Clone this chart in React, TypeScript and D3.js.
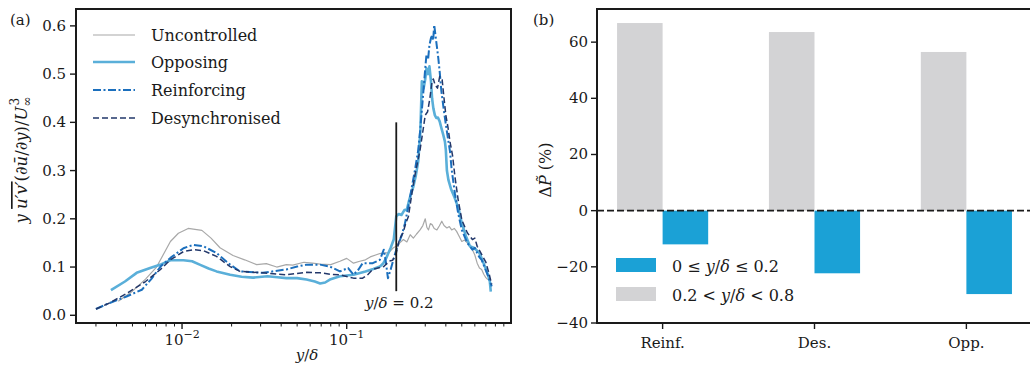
import * as d3 from "d3";

// panel (a): premultiplied energy production profiles, [y/delta, value]
const uncontrolled: [number, number][] = [
  [0.0041, 0.029], [0.005, 0.05], [0.006, 0.075], [0.007, 0.1], [0.0085, 0.153], [0.0095, 0.17],
  [0.0109, 0.18], [0.0132, 0.176], [0.015, 0.16], [0.017, 0.14], [0.0204, 0.124], [0.024, 0.115],
  [0.0284, 0.105], [0.0325, 0.107], [0.0376, 0.1], [0.043, 0.105], [0.047, 0.104], [0.055, 0.11],
  [0.062, 0.108], [0.069, 0.106], [0.08, 0.105], [0.091, 0.112], [0.1, 0.118], [0.11, 0.108],
  [0.12, 0.112], [0.13, 0.115], [0.139, 0.121], [0.159, 0.128], [0.168, 0.129], [0.18, 0.13],
  [0.192, 0.14], [0.2, 0.143], [0.21, 0.15], [0.221, 0.157], [0.232, 0.152], [0.243, 0.167],
  [0.254, 0.16], [0.265, 0.168], [0.279, 0.177], [0.29, 0.186], [0.3, 0.2], [0.307, 0.182],
  [0.314, 0.177], [0.322, 0.19], [0.33, 0.188], [0.34, 0.18], [0.353, 0.177], [0.365, 0.185],
  [0.378, 0.195], [0.39, 0.186], [0.406, 0.181], [0.42, 0.184], [0.434, 0.177], [0.45, 0.18],
  [0.465, 0.174], [0.48, 0.165], [0.5, 0.153], [0.52, 0.156], [0.54, 0.15], [0.56, 0.145],
  [0.58, 0.136], [0.6, 0.125], [0.62, 0.108], [0.64, 0.098], [0.66, 0.095], [0.68, 0.085],
  [0.7, 0.078], [0.72, 0.074],
];

const opposing: [number, number][] = [
  [0.0037, 0.052], [0.0045, 0.07], [0.0053, 0.088], [0.0064, 0.098], [0.0075, 0.106], [0.0085, 0.114],
  [0.0102, 0.114], [0.0115, 0.112], [0.0128, 0.105], [0.0145, 0.097], [0.0162, 0.091], [0.0196, 0.084],
  [0.023, 0.08], [0.027, 0.078], [0.033, 0.081], [0.038, 0.079], [0.043, 0.077], [0.05, 0.077],
  [0.057, 0.074], [0.064, 0.07], [0.069, 0.066], [0.074, 0.068], [0.079, 0.074], [0.091, 0.081],
  [0.11, 0.084], [0.13, 0.091], [0.145, 0.096], [0.159, 0.101], [0.167, 0.108], [0.174, 0.119],
  [0.185, 0.14], [0.193, 0.157], [0.2, 0.205], [0.207, 0.21], [0.215, 0.208], [0.224, 0.218],
  [0.232, 0.219], [0.238, 0.235], [0.243, 0.246], [0.254, 0.267], [0.263, 0.29], [0.272, 0.32],
  [0.28, 0.38], [0.286, 0.485], [0.293, 0.47], [0.3, 0.49], [0.305, 0.512], [0.312, 0.5],
  [0.318, 0.516], [0.325, 0.485], [0.33, 0.45], [0.336, 0.429], [0.343, 0.415], [0.35, 0.409],
  [0.358, 0.41], [0.367, 0.402], [0.376, 0.388], [0.386, 0.374], [0.395, 0.36], [0.4, 0.343],
  [0.406, 0.3], [0.415, 0.28], [0.43, 0.262], [0.45, 0.246], [0.48, 0.219], [0.5, 0.191],
  [0.53, 0.164], [0.56, 0.143], [0.59, 0.14], [0.61, 0.136], [0.64, 0.129], [0.66, 0.118],
  [0.69, 0.101], [0.72, 0.085], [0.74, 0.07], [0.75, 0.049],
];

const reinforcing: [number, number][] = [
  [0.003, 0.013], [0.0036, 0.025], [0.0046, 0.039], [0.0057, 0.053], [0.0065, 0.075], [0.0074, 0.101],
  [0.0085, 0.119], [0.0102, 0.139], [0.0117, 0.146], [0.0135, 0.143], [0.0162, 0.129], [0.0196, 0.105],
  [0.0225, 0.091], [0.031, 0.088], [0.043, 0.095], [0.05, 0.101], [0.057, 0.105], [0.069, 0.105],
  [0.079, 0.101], [0.091, 0.091], [0.102, 0.098], [0.11, 0.084], [0.118, 0.095], [0.125, 0.108],
  [0.144, 0.108], [0.159, 0.115], [0.168, 0.136], [0.173, 0.11], [0.178, 0.077], [0.185, 0.095],
  [0.192, 0.115], [0.2, 0.136], [0.215, 0.164], [0.226, 0.191], [0.237, 0.226], [0.249, 0.267],
  [0.26, 0.302], [0.272, 0.343], [0.279, 0.381], [0.29, 0.45], [0.3, 0.512], [0.305, 0.54],
  [0.312, 0.53], [0.318, 0.56], [0.325, 0.575], [0.33, 0.58], [0.335, 0.57], [0.34, 0.602],
  [0.35, 0.567], [0.36, 0.533], [0.367, 0.505], [0.376, 0.464], [0.39, 0.422], [0.406, 0.381],
  [0.424, 0.34], [0.434, 0.302], [0.454, 0.253], [0.475, 0.212], [0.5, 0.177], [0.54, 0.15],
  [0.58, 0.136], [0.6, 0.14], [0.62, 0.129], [0.64, 0.12], [0.66, 0.115], [0.71, 0.088],
  [0.76, 0.06],
];

const desynchronised: [number, number][] = [
  [0.003, 0.013], [0.0036, 0.025], [0.0046, 0.045], [0.006, 0.07], [0.0074, 0.095], [0.0085, 0.115],
  [0.0102, 0.132], [0.0117, 0.136], [0.0135, 0.134], [0.0162, 0.122], [0.0196, 0.101], [0.0225, 0.091],
  [0.031, 0.088], [0.043, 0.084], [0.057, 0.089], [0.069, 0.088], [0.08, 0.085], [0.091, 0.084],
  [0.11, 0.077], [0.125, 0.077], [0.135, 0.085], [0.144, 0.095], [0.155, 0.098], [0.168, 0.101],
  [0.18, 0.112], [0.19, 0.114], [0.2, 0.129], [0.209, 0.157], [0.22, 0.171], [0.228, 0.19],
  [0.237, 0.205], [0.249, 0.253], [0.26, 0.291], [0.279, 0.343], [0.29, 0.381], [0.3, 0.415],
  [0.31, 0.422], [0.32, 0.45], [0.33, 0.485], [0.336, 0.49], [0.344, 0.478], [0.356, 0.471],
  [0.367, 0.495], [0.38, 0.488], [0.39, 0.45], [0.4, 0.415], [0.412, 0.39], [0.424, 0.36],
  [0.44, 0.33], [0.454, 0.288], [0.475, 0.24], [0.5, 0.198], [0.54, 0.171], [0.58, 0.157],
  [0.6, 0.16], [0.62, 0.143], [0.67, 0.122], [0.7, 0.11], [0.73, 0.088], [0.76, 0.064],
];

const leftYTicks = [0, 0.1, 0.2, 0.3, 0.4, 0.5, 0.6];
const leftXMajor = [0.01, 0.1];
const leftXMajorLabels = ["−2", "−1"];

// panel (b): change in production per region
const categories = ["Reinf.", "Des.", "Opp."];
const nearWall = [-12.0, -22.3, -29.7];
const outerLayer = [66.8, 63.6, 56.5];
const rightYTicks = [-40, -20, 0, 20, 40, 60];

const FONT = "'DejaVu Serif', serif";
const INK = "#1a1a1a";

const series = [
  { name: "Uncontrolled", pts: uncontrolled, color: "#a8a8a8", width: 1.2, dash: "" },
  { name: "Opposing", pts: opposing, color: "#5aafd9", width: 2.6, dash: "" },
  { name: "Reinforcing", pts: reinforcing, color: "#1b6fbd", width: 2, dash: "8,2.5,2,2.5" },
  { name: "Desynchronised", pts: desynchronised, color: "#22376a", width: 1.5, dash: "6,3" },
];

const L = { left: 76, right: 511, top: 9, bottom: 323 };
const R = { left: 597, right: 1032, top: 9, bottom: 323 };

const App = () => {
  const xL = d3.scaleLog().domain([0.00227, 0.995]).range([L.left, L.right]);
  const yL = d3.scaleLinear().domain([-0.016, 0.635]).range([L.bottom, L.top]);
  const xR = d3.scaleLinear().domain([-0.432, 2.432]).range([R.left, R.right]);
  const yR = d3.scaleLinear().domain([-40, 71.8]).range([R.bottom, R.top]);

  const line = d3
    .line<[number, number]>()
    .x((d) => xL(d[0]))
    .y((d) => yL(d[1]));

  // minor log ticks
  const minor: number[] = [];
  [0.001, 0.01, 0.1].forEach((dec) => {
    for (let k = 2; k <= 9; k++) {
      const v = dec * k;
      if (v >= 0.00227 && v <= 0.995) minor.push(v);
    }
  });

  const barW = 0.3;
  const legendY = [35, 62, 90, 118];

  return (
    <svg
      width={1030}
      height={365}
      style={{ position: "absolute", left: 0, top: 0, background: "#fff" }}
      fontFamily={FONT}
    >
      {/* ---------- panel (a) ---------- */}
      <text x={10} y={25} fontSize={15} fill={INK}>(a)</text>

      {series.map((s) => (
        <path
          key={s.name}
          d={line(s.pts) || ""}
          fill="none"
          stroke={s.color}
          strokeWidth={s.width}
          strokeDasharray={s.dash || undefined}
          strokeLinejoin="round"
        />
      ))}

      {/* y/delta = 0.2 marker */}
      <line x1={xL(0.2)} x2={xL(0.2)} y1={yL(0.05)} y2={yL(0.4)} stroke={INK} strokeWidth={1.8} />
      <text x={xL(0.2) + 3} y={308} fontSize={15} textAnchor="middle" fill={INK}>
        <tspan fontStyle="italic">y</tspan>/<tspan fontStyle="italic">δ</tspan> = 0.2
      </text>

      {/* legend */}
      {series.map((s, i) => (
        <g key={s.name}>
          <line x1={93} x2={135} y1={legendY[i]} y2={legendY[i]} stroke={s.color} strokeWidth={s.width} strokeDasharray={s.dash || undefined} />
          <text x={151} y={legendY[i] + 6} fontSize={16} fill={INK}>{s.name}</text>
        </g>
      ))}

      {/* y axis */}
      {leftYTicks.map((t) => (
        <g key={t}>
          <line x1={L.left - 6} x2={L.left} y1={yL(t)} y2={yL(t)} stroke={INK} strokeWidth={1.4} />
          <text x={L.left - 10} y={yL(t) + 5} fontSize={15} textAnchor="end" fill={INK}>{d3.format(".1f")(t)}</text>
        </g>
      ))}
      {/* x axis */}
      {minor.map((t) => (
        <line key={t} x1={xL(t)} x2={xL(t)} y1={L.bottom} y2={L.bottom + 3.5} stroke={INK} strokeWidth={1} />
      ))}
      {leftXMajor.map((t, i) => (
        <g key={t}>
          <line x1={xL(t)} x2={xL(t)} y1={L.bottom} y2={L.bottom + 6} stroke={INK} strokeWidth={1.4} />
          <text x={xL(t)} y={345} fontSize={15} textAnchor="middle" fill={INK}>
            10<tspan dy={-7} fontSize={11}>{leftXMajorLabels[i]}</tspan>
          </text>
        </g>
      ))}
      <text x={307} y={360} fontSize={15} textAnchor="middle" fill={INK}>
        <tspan fontStyle="italic">y</tspan>/<tspan fontStyle="italic">δ</tspan>
      </text>
      <text transform="translate(27,160) rotate(-90)" fontSize={16.5} textAnchor="middle" fill={INK}>
        <tspan fontStyle="italic">y </tspan>
        <tspan fontStyle="italic" textDecoration="overline" style={{ textDecoration: "overline" }}>u′v′</tspan>
        (∂<tspan fontStyle="italic">ū</tspan>/∂<tspan fontStyle="italic">y</tspan>)/<tspan fontStyle="italic">U</tspan>
        <tspan dy={4} fontSize={12}>∞</tspan>
        <tspan dx={-9} dy={-12} fontSize={12}>3</tspan>
      </text>

      <rect x={L.left} y={L.top} width={L.right - L.left} height={L.bottom - L.top} fill="none" stroke={INK} strokeWidth={2} />

      {/* ---------- panel (b) ---------- */}
      <text x={533} y={25} fontSize={15} fill={INK}>(b)</text>

      {categories.map((c, i) => (
        <g key={c}>
          <rect
            x={xR(i - barW)}
            y={yR(outerLayer[i])}
            width={xR(i) - xR(i - barW)}
            height={yR(0) - yR(outerLayer[i])}
            fill="#d3d3d5"
          />
          <rect
            x={xR(i)}
            y={yR(0)}
            width={xR(i + barW) - xR(i)}
            height={yR(nearWall[i]) - yR(0)}
            fill="#1ba1d6"
          />
        </g>
      ))}

      <line x1={R.left} x2={1030} y1={yR(0)} y2={yR(0)} stroke={INK} strokeWidth={1.8} strokeDasharray="7,3" />

      {/* legend */}
      <rect x={616} y={258} width={40} height={14} fill="#1ba1d6" />
      <text x={672} y={272} fontSize={16} fill={INK}>
        0 ≤ <tspan fontStyle="italic">y</tspan>/<tspan fontStyle="italic">δ</tspan> ≤ 0.2
      </text>
      <rect x={616} y={287} width={40} height={14} fill="#d3d3d5" />
      <text x={672} y={301} fontSize={16} fill={INK}>
        0.2 &lt; <tspan fontStyle="italic">y</tspan>/<tspan fontStyle="italic">δ</tspan> &lt; 0.8
      </text>

      {rightYTicks.map((t) => (
        <g key={t}>
          <line x1={R.left - 6} x2={R.left} y1={yR(t)} y2={yR(t)} stroke={INK} strokeWidth={1.4} />
          <text x={R.left - 9} y={yR(t) + 5} fontSize={15} textAnchor="end" fill={INK}>
            {t < 0 ? `−${-t}` : `${t}`}
          </text>
        </g>
      ))}
      {categories.map((c, i) => (
        <g key={c}>
          <line x1={xR(i)} x2={xR(i)} y1={R.bottom} y2={R.bottom + 6} stroke={INK} strokeWidth={1.4} />
          <text x={xR(i)} y={348} fontSize={15} textAnchor="middle" fill={INK}>{c}</text>
        </g>
      ))}
      <text transform="translate(551,170) rotate(-90)" fontSize={16} textAnchor="middle" fill={INK}>
        Δ<tspan fontStyle="italic">P̃</tspan> (%)
      </text>

      <path
        d={`M${R.right},${R.top}H${R.left}V${R.bottom}H${R.right}`}
        fill="none"
        stroke={INK}
        strokeWidth={2}
      />
    </svg>
  );
};

export default App;
